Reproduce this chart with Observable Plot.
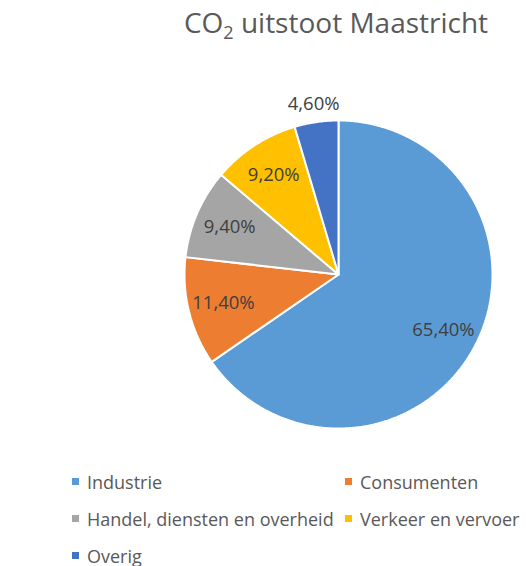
<!DOCTYPE html>
<html><head><meta charset="utf-8">
<script src="https://cdn.jsdelivr.net/npm/d3@7"></script>
<script src="https://cdn.jsdelivr.net/npm/@observablehq/plot@0.6"></script>
<style>
body{margin:0;background:#fff;font-family:"Open Sans",sans-serif;}
#wrap{width:526px;height:566px;position:relative;overflow:hidden;}
#title{position:absolute;left:0;top:0;width:672px;text-align:center;font-size:28px;line-height:40px;color:#595959;padding-top:2px;}
#title sub{font-size:18px;vertical-align:-6px;line-height:0;}
#chart{position:absolute;left:0;top:50px;}
#legend{position:absolute;left:72px;top:463px;display:grid;grid-template-columns:273px 200px;grid-auto-rows:37px;font-size:18px;color:#595959;}
#legend .item{display:flex;align-items:center;white-space:nowrap;}
#legend .sw{width:7px;height:7px;margin-right:8px;flex:none;}
</style></head><body>
<div id="wrap"><div id="title">CO<sub>2</sub> uitstoot Maastricht</div><div id="chart"></div><div id="legend"></div></div>
<script>
const categories = ["Industrie","Consumenten","Handel, diensten en overheid","Verkeer en vervoer","Overig"];
const values = [65.4, 11.4, 9.4, 9.2, 4.6];
const labels = ["65,40%","11,40%","9,40%","9,20%","4,60%"];
const colors = ["#5B9BD5","#ED7D31","#A5A5A5","#FFC000","#4472C4"];

const rows = categories.map((c, i) => ({name: c, value: values[i], label: labels[i], color: colors[i]}));
const arcs = d3.pie().sort(null).value(d => d.value)(rows);

const slices = arcs.map(a => {
  const pts = [{x: 0, y: 0}];
  const n = Math.max(8, Math.ceil((a.endAngle - a.startAngle) / 0.01));
  for (let k = 0; k <= n; k++) {
    const t = a.startAngle + (a.endAngle - a.startAngle) * k / n;
    pts.push({x: Math.sin(t), y: Math.cos(t)});
  }
  pts.push({x: 0, y: 0});
  return {data: a.data, pts};
});

const labelPts = arcs.map(a => {
  const mid = (a.startAngle + a.endAngle) / 2;
  const share = a.data.value / d3.sum(values);
  const r = share < 0.06 ? 1.12 : 0.77;
  return {x: r * Math.sin(mid), y: r * Math.cos(mid), label: a.data.label};
});

const W = 526, H = 412, cx = 338, cy = 224, R = 154;
const chart = Plot.plot({
  width: W, height: H,
  margin: 0,
  style: {fontFamily: "Open Sans", background: "white"},
  x: {domain: [-cx / R, (W - cx) / R], range: [0, W], axis: null},
  y: {domain: [-(H - cy) / R, cy / R], range: [H, 0], axis: null},
  marks: [
    ...slices.map(s => Plot.line(s.pts, {x: "x", y: "y", fill: s.data.color, stroke: "white", strokeWidth: 2, strokeLinejoin: "miter"})),
    Plot.text(labelPts, {x: "x", y: "y", text: "label", fontSize: 18.5, fill: "#404040"})
  ]
});
document.getElementById("chart").appendChild(chart);

const legend = document.getElementById("legend");
rows.forEach(r => {
  const it = document.createElement("div");
  it.className = "item";
  const sw = document.createElement("span");
  sw.className = "sw"; sw.style.background = r.color;
  const tx = document.createElement("span");
  tx.textContent = r.name;
  it.appendChild(sw); it.appendChild(tx);
  legend.appendChild(it);
});
</script>
</body></html>
